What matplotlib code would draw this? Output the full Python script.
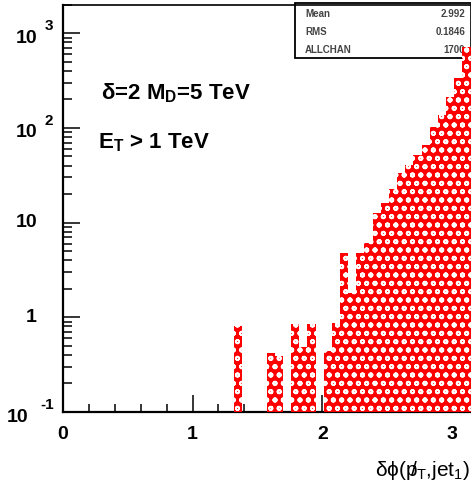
import numpy as np
import matplotlib
matplotlib.use('Agg')
import matplotlib.pyplot as plt
from matplotlib.patches import Rectangle
from matplotlib.ticker import LogLocator, NullFormatter, FixedLocator
from matplotlib.transforms import blended_transform_factory, ScaledTranslation

plt.rcParams['font.family'] = ['Liberation Sans', 'DejaVu Sans']
plt.rcParams['mathtext.fontset'] = 'custom'
plt.rcParams['mathtext.rm'] = 'Liberation Sans'
plt.rcParams['mathtext.bf'] = 'Liberation Sans:bold'
plt.rcParams['hatch.linewidth'] = 1.3

# delta-phi between missing pT and leading jet, 50 bins over [0, pi]
n_bins = 50
filled_bins = [21, 25, 26, 28, 29, 30, 32, 33, 34, 35, 36, 37, 38, 39, 40,
               41, 42, 43, 44, 45, 46, 47, 48, 49]
counts = [0.81, 0.42, 0.39, 0.84, 0.49, 0.84, 0.44, 0.88, 4.8, 1.8, 4.8, 6.1,
          12.5, 16.0, 22.5, 33.7, 40.6, 51.7, 65.9, 103, 137, 213, 334, 715]

stat_names = ['Mean', 'RMS', 'ALLCHAN']
stat_values = ['2.992', '0.1846', '1700']

# y tick labels: (value, base, exponent)
ytick_labels = [(1000, '10', '3'), (100, '10', '2'), (10, '10', ''),
                (1, '1', ''), (0.1, '10', '-1')]

W, H = 471, 486
fig = plt.figure(figsize=(W / 100, H / 100), dpi=100)
x0, x1, ytop, ybot = 62.7, 470.5, 4.7, 412.0
ax = fig.add_axes([x0 / W, 1 - ybot / H, (x1 - x0) / W, (ybot - ytop) / H])

edges = np.linspace(0, np.pi, n_bins + 1)
width = edges[1] - edges[0]
ax.bar(edges[filled_bins], counts, width=width, align='edge',
       color='red', edgecolor='white', hatch='oo', linewidth=0, zorder=3)

ax.set_yscale('log')
ax.set_xlim(0, np.pi)
ax.set_ylim(0.1, 2000)

ax.xaxis.set_major_locator(FixedLocator([0, 1, 2, 3]))
ax.xaxis.set_minor_locator(FixedLocator(np.arange(0.2, 3.15, 0.2)))
ax.set_xticklabels(['0', '1', '2', '3'], fontsize=14, fontweight='bold')
ax.yaxis.set_major_locator(FixedLocator([0.1, 1, 10, 100, 1000]))
ax.yaxis.set_minor_locator(LogLocator(base=10, subs=np.arange(2, 10)))
ax.yaxis.set_minor_formatter(NullFormatter())
ax.set_yticklabels([])

ax.tick_params(which='both', direction='in', width=1.1, top=False, right=False)
ax.tick_params(axis='x', which='major', length=12, pad=10)
ax.tick_params(axis='x', which='minor', length=5.5)
ax.tick_params(axis='y', which='major', length=12)
ax.tick_params(axis='y', which='minor', length=6.5)
for side in ['left', 'bottom']:
    ax.spines[side].set_linewidth(1.6)
for side in ['top', 'right']:
    ax.spines[side].set_linewidth(1.2)

# ROOT-like y labels with a raised exponent
blend = blended_transform_factory(ax.transAxes, ax.transData)
def px_off(dx, dy):
    return ScaledTranslation(dx / 100, -dy / 100, fig.dpi_scale_trans)

for val, base, expo in ytick_labels:
    if expo == '':
        ax.text(0, val, base, transform=blend + px_off(37 - x0, 0),
                ha='right', va='center', fontsize=14, fontweight='bold')
    else:
        base_r = 28 if expo.startswith('-') else 37
        sup_l = 40 if expo.startswith('-') else 45
        ax.text(0, val, base, transform=blend + px_off(base_r - x0, 5),
                ha='right', va='center', fontsize=14, fontweight='bold')
        ax.text(0, val, expo, transform=blend + px_off(sup_l - x0, -7),
                ha='left', va='center', fontsize=11, fontweight='bold')

# statistics box (drawn underneath the histogram)
box = Rectangle((295 / W, 1 - 58 / H), 185 / W, 55 / H, transform=fig.transFigure,
                facecolor='white', edgecolor='black', linewidth=1.3,
                clip_on=False, zorder=1)
ax.add_patch(box)
for i, (name, value) in enumerate(zip(stat_names, stat_values)):
    yy = 1 - (14 + 18 * i) / H
    ax.text(305 / W, yy, name, transform=fig.transFigure, ha='left', va='center',
            fontsize=7, fontweight='bold', color='#444444', zorder=2)
    ax.text(465 / W, yy, value, transform=fig.transFigure, ha='right', va='center',
            fontsize=7, fontweight='bold', color='#444444', zorder=2)

fig.text(101 / W, 1 - 93 / H, r'δ=2 M$_\mathbf{D}$=5 TeV',
         ha='left', va='center', fontsize=16, fontweight='bold')
fig.text(98 / W, 1 - 143 / H, r'E$_\mathbf{T}$ > 1 TeV',
         ha='left', va='center', fontsize=16, fontweight='bold')
fig.text(470 / W, 1 - 470 / H,
         r'δ$\mathregular{\phi}$(p$\!\!/_\mathregular{T}$,jet$_\mathregular{1}$)',
         ha='right', va='center', fontsize=15)

fig.savefig('out.png', dpi=100)
